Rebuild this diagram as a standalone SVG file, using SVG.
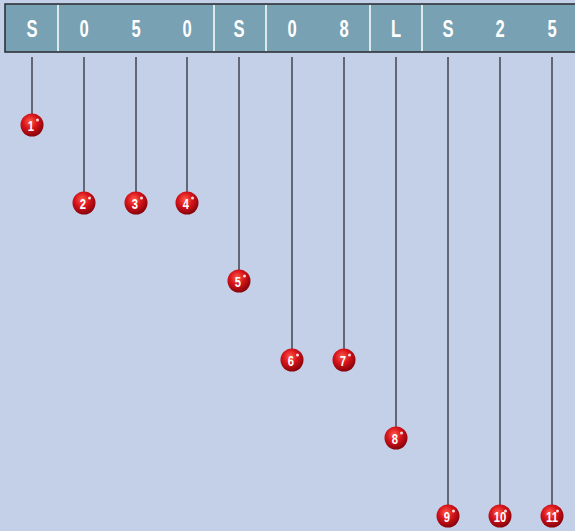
<svg xmlns="http://www.w3.org/2000/svg" width="575" height="531" viewBox="0 0 575 531">
<defs>
<radialGradient id="ball" cx="0.42" cy="0.35" r="0.7">
<stop offset="0" stop-color="#ff5a4a"/>
<stop offset="0.45" stop-color="#d8141a"/>
<stop offset="1" stop-color="#7a0008"/>
</radialGradient>
<style>
.hdr{font-family:"Liberation Sans",Arial,sans-serif;font-weight:bold;font-size:23px;fill:#ffffff;text-anchor:middle}
.sep{stroke:#ffffff;stroke-width:1.5}
.wire{stroke:#4a4d58;stroke-width:1.6}
.num{font-family:"Liberation Sans",Arial,sans-serif;font-weight:bold;font-size:15px;fill:#ffffff;text-anchor:middle}
.hl{fill:#ffffff;opacity:0.85}
</style>
<g id="b">
<circle r="11.5" fill="url(#ball)"/>
<circle cx="5.5" cy="-5" r="1.5" class="hl"/>
</g>
</defs>
<rect width="575" height="531" fill="#c4cfe8"/>
<g id="header">
<rect x="5" y="4" width="580" height="48" fill="#78a1b3" stroke="#2f3338" stroke-width="1.6"/>
<line class="sep" x1="58" y1="5" x2="58" y2="51"/>
<line class="sep" x1="214" y1="5" x2="214" y2="51"/>
<line class="sep" x1="266" y1="5" x2="266" y2="51"/>
<line class="sep" x1="370" y1="5" x2="370" y2="51"/>
<line class="sep" x1="422" y1="5" x2="422" y2="51"/>
<text class="hdr" transform="translate(32 37) scale(0.72 1)">S</text>
<text class="hdr" transform="translate(84 37) scale(0.72 1)">0</text>
<text class="hdr" transform="translate(136 37) scale(0.72 1)">5</text>
<text class="hdr" transform="translate(187 37) scale(0.72 1)">0</text>
<text class="hdr" transform="translate(239 37) scale(0.72 1)">S</text>
<text class="hdr" transform="translate(292 37) scale(0.72 1)">0</text>
<text class="hdr" transform="translate(344 37) scale(0.72 1)">8</text>
<text class="hdr" transform="translate(396 37) scale(0.72 1)">L</text>
<text class="hdr" transform="translate(448 37) scale(0.72 1)">S</text>
<text class="hdr" transform="translate(500 37) scale(0.72 1)">2</text>
<text class="hdr" transform="translate(552 37) scale(0.72 1)">5</text>
</g>
<g id="connectors">
<line class="wire" x1="32" y1="57" x2="32" y2="115"/>
<line class="wire" x1="84" y1="57" x2="84" y2="193"/>
<line class="wire" x1="136" y1="57" x2="136" y2="193"/>
<line class="wire" x1="187" y1="57" x2="187" y2="193"/>
<line class="wire" x1="239" y1="57" x2="239" y2="271"/>
<line class="wire" x1="292" y1="57" x2="292" y2="349"/>
<line class="wire" x1="344" y1="57" x2="344" y2="349"/>
<line class="wire" x1="396" y1="57" x2="396" y2="428"/>
<line class="wire" x1="448" y1="57" x2="448" y2="506"/>
<line class="wire" x1="500" y1="57" x2="500" y2="506"/>
<line class="wire" x1="552" y1="57" x2="552" y2="506"/>
</g>
<g id="n1"><use href="#b" x="32" y="125"/><text class="num" transform="translate(31 130.5) scale(0.75 1)">1</text></g>
<g id="n2"><use href="#b" x="84" y="203"/><text class="num" transform="translate(83 208.5) scale(0.75 1)">2</text></g>
<g id="n3"><use href="#b" x="136" y="203"/><text class="num" transform="translate(135 208.5) scale(0.75 1)">3</text></g>
<g id="n4"><use href="#b" x="187" y="203"/><text class="num" transform="translate(186 208.5) scale(0.75 1)">4</text></g>
<g id="n5"><use href="#b" x="239" y="281"/><text class="num" transform="translate(238 286.5) scale(0.75 1)">5</text></g>
<g id="n6"><use href="#b" x="292" y="360"/><text class="num" transform="translate(291 365.5) scale(0.75 1)">6</text></g>
<g id="n7"><use href="#b" x="344" y="360"/><text class="num" transform="translate(343 365.5) scale(0.75 1)">7</text></g>
<g id="n8"><use href="#b" x="396" y="438"/><text class="num" transform="translate(395 443.5) scale(0.75 1)">8</text></g>
<g id="n9"><use href="#b" x="448" y="516"/><text class="num" transform="translate(447 521.5) scale(0.75 1)">9</text></g>
<g id="n10"><use href="#b" x="500" y="516"/><text class="num" transform="translate(500 521.5) scale(0.75 1)">10</text></g>
<g id="n11"><use href="#b" x="552" y="516"/><text class="num" transform="translate(552 521.5) scale(0.75 1)">11</text></g>
</svg>
